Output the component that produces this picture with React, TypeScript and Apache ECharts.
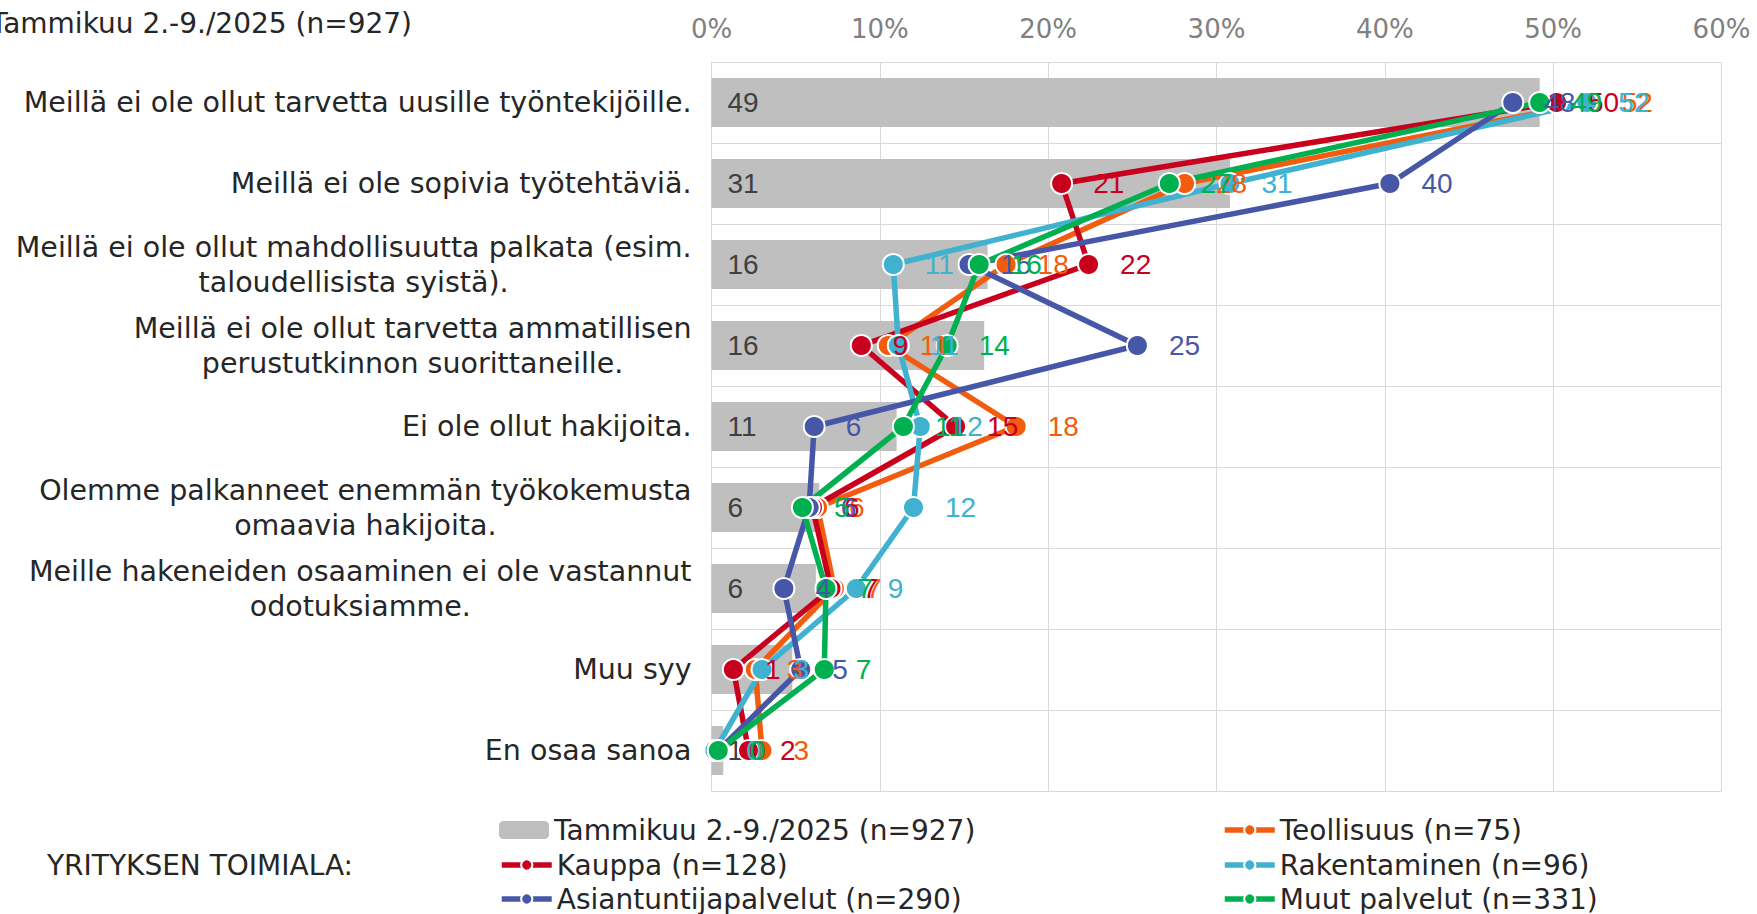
import React, { useEffect, useRef } from "react";
import * as echarts from "echarts";

const categories = [
  "Meillä ei ole ollut tarvetta uusille työntekijöille.",
  "Meillä ei ole sopivia työtehtäviä.",
  "Meillä ei ole ollut mahdollisuutta palkata (esim.\ntaloudellisista syistä).",
  "Meillä ei ole ollut tarvetta ammatillisen\nperustutkinnon suorittaneille.",
  "Ei ole ollut hakijoita.",
  "Olemme palkanneet enemmän työkokemusta\nomaavia hakijoita.",
  "Meille hakeneiden osaaminen ei ole vastannut\nodotuksiamme.",
  "Muu syy",
  "En osaa sanoa",
];

const totalName = "Tammikuu 2.-9./2025 (n=927)";
const totalValues = [49.2, 30.8, 16.4, 16.2, 11.0, 6.4, 6.2, 4.8, 0.7];

const teollisuusName = "Teollisuus (n=75)";
const teollisuusValues = [52.2, 28.1, 17.5, 10.5, 18.1, 6.3, 7.3, 2.6, 3.0];

const kauppaName = "Kauppa (n=128)";
const kauppaValues = [50.2, 20.8, 22.4, 8.9, 14.5, 6.0, 7.1, 1.3, 2.2];

const rakentaminenName = "Rakentaminen (n=96)";
const rakentaminenValues = [52.0, 30.8, 10.8, 11.1, 12.4, 12.0, 8.6, 3.0, 0.2];

const asiantuntijaName = "Asiantuntijapalvelut (n=290)";
const asiantuntijaValues = [47.6, 40.3, 15.3, 25.3, 6.1, 5.8, 4.3, 5.3, 0.4];

const muutName = "Muut palvelut (n=331)";
const muutValues = [49.2, 27.2, 15.9, 14.0, 11.4, 5.4, 6.8, 6.7, 0.4];

const titleText = "Tammikuu 2.-9./2025 (n=927)";
const groupLabel = "YRITYKSEN TOIMIALA:";

const lineSeriesDefs = [
  { name: teollisuusName, values: teollisuusValues, color: "#F25C0F" },
  { name: kauppaName, values: kauppaValues, color: "#C8001E" },
  { name: rakentaminenName, values: rakentaminenValues, color: "#40B2D0" },
  { name: asiantuntijaName, values: asiantuntijaValues, color: "#4757A8" },
  { name: muutName, values: muutValues, color: "#00B050" },
];

const SANS = "'DejaVu Sans', Verdana, sans-serif";
const ARIAL = "'Liberation Sans', Arial, sans-serif";

export default function App() {
  const ref = useRef<HTMLDivElement>(null);
  useEffect(() => {
    if (!ref.current) return;
    const chart = echarts.init(ref.current, undefined, { renderer: "svg" });

    const legendPos = [
      { name: totalName, left: 499, top: 816 },
      { name: teollisuusName, left: 1222, top: 816 },
      { name: kauppaName, left: 499, top: 851 },
      { name: rakentaminenName, left: 1222, top: 851 },
      { name: asiantuntijaName, left: 499, top: 885 },
      { name: muutName, left: 1222, top: 885 },
    ];

    const option: any = {
      animation: false,
      backgroundColor: "#ffffff",
      grid: { left: 711.5, right: 35.5, top: 62, bottom: 123, containLabel: false },
      xAxis: {
        type: "value",
        position: "top",
        min: 0,
        max: 60,
        interval: 10,
        axisLine: { show: false },
        axisTick: { show: false },
        axisLabel: {
          formatter: "{value}%",
          color: "#808080",
          fontFamily: SANS,
          fontSize: 26,
          margin: 20,
        },
        splitLine: { show: true, lineStyle: { color: "#D9D9D9", width: 1 } },
      },
      yAxis: {
        type: "category",
        inverse: true,
        data: categories,
        axisLine: { show: false },
        axisTick: { show: false },
        splitLine: { show: true, interval: 0, lineStyle: { color: "#D9D9D9", width: 1 } },
        axisLabel: {
          interval: 0,
          align: "right",
          margin: 20,
          formatter: (v: string) =>
            v
              .split("\n")
              .map((l) => `{c|${l}}`)
              .join("\n"),
          rich: {
            c: {
              align: "center",
              fontFamily: SANS,
              fontSize: 28.5,
              color: "#262626",
              lineHeight: 35,
            },
          },
        },
      },
      legend: legendPos.map((lp) => ({
        data: [lp.name],
        left: lp.left,
        top: lp.top,
        padding: 0,
        itemWidth: 50,
        itemHeight: lp.name === totalName ? 18 : 14,
        lineStyle: { width: 5.5 },
        textStyle: { fontFamily: SANS, fontSize: 28, color: "#262626" },
        selectedMode: false,
      })),
      graphic: [
        {
          type: "text",
          x: 412,
          y: 23,
          style: {
            text: titleText,
            align: "right",
            verticalAlign: "middle",
            fontFamily: SANS,
            fontSize: 28,
            fill: "#262626",
          },
        },
        {
          type: "text",
          x: 47,
          y: 865,
          style: {
            text: groupLabel,
            align: "left",
            verticalAlign: "middle",
            fontFamily: SANS,
            fontSize: 28,
            fill: "#262626",
          },
        },
      ],
      series: [
        {
          name: totalName,
          type: "bar",
          data: totalValues,
          barWidth: 49,
          itemStyle: { color: "#BFBFBF" },
          label: {
            show: true,
            position: "insideLeft",
            distance: 16,
            color: "#404040",
            fontFamily: ARIAL,
            fontSize: 28,
            formatter: (p: any) => String(Math.round(p.value)),
          },
          z: 1,
        },
        ...lineSeriesDefs.map((s) => ({
          name: s.name,
          type: "line",
          data: s.values,
          symbol: "circle",
          symbolSize: 21,
          showAllSymbol: true,
          lineStyle: { color: s.color, width: 5.5 },
          itemStyle: { color: s.color, borderColor: "#ffffff", borderWidth: 2 },
          label: {
            show: true,
            position: "right",
            distance: 20,
            color: s.color,
            fontFamily: ARIAL,
            fontSize: 28,
            formatter: (p: any) => String(Math.round(p.value)),
          },
          z: 2,
        })),
      ],
    };
    chart.setOption(option);
    return () => chart.dispose();
  }, []);
  return (
    <div
      ref={ref}
      style={{ position: "absolute", left: 0, top: 0, width: 1757, height: 914 }}
    />
  );
}
